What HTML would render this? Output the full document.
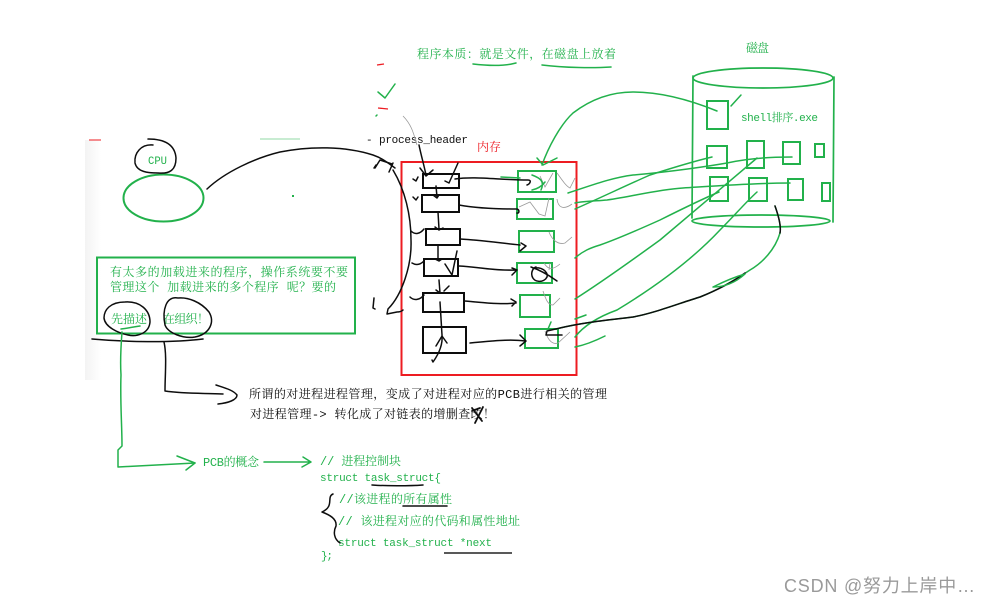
<!DOCTYPE html>
<html>
<head>
<meta charset="utf-8">
<style>
html,body{margin:0;padding:0;background:#fff;width:988px;height:605px;overflow:hidden}
svg{display:block}
text{font-family:"Liberation Mono","Noto Serif CJK SC",serif;font-size:11px}
text.c{font-size:12px}
.g{fill:#22b14c}
.k{fill:#111}
.gs{fill:none;stroke:#22b14c;stroke-width:1.5;stroke-linecap:round;stroke-linejoin:round}
.bs{fill:none;stroke:#111;stroke-width:1.5;stroke-linecap:round;stroke-linejoin:round}
.gb{fill:none;stroke:#22b14c;stroke-width:2}
.kb{fill:none;stroke:#111;stroke-width:2}
.th{fill:none;stroke:#999;stroke-width:.8}
</style>
</head>
<body>
<svg width="988" height="605" viewBox="0 0 988 605" xmlns="http://www.w3.org/2000/svg">
<defs>
<linearGradient id="fade" x1="0" x2="1" y1="0" y2="0">
<stop offset="0" stop-color="#f3f3f3"/><stop offset="1" stop-color="#fff"/>
</linearGradient>
<filter id="soft" x="0" y="0" width="100%" height="100%"><feGaussianBlur stdDeviation="0.35"/></filter>
</defs>
<rect width="988" height="605" fill="#fff"/>
<rect x="85" y="140" width="16" height="240" fill="url(#fade)"/>
<g filter="url(#soft)">
<path d="M89 140H101" stroke="#ed1c24" stroke-width="1"/>
<path d="M260 139H300" stroke="#22b14c" stroke-width="1" opacity=".5"/>
<rect x="292" y="195" width="2" height="2" fill="#22b14c"/>

<!-- top marks -->
<path d="M377 65L384 64M378 108L388 109" stroke="#ed1c24" stroke-width="1.3" fill="none"/>
<path class="gs" d="M378 92L385 98L395 84"/>
<path class="gs" d="M377 115L376 116"/>

<text class="g c" x="417" y="58" textLength="199" lengthAdjust="spacing">程序本质：就是文件，在磁盘上放着</text>
<path class="gs" d="M473 64C490 66 505 66 516 63"/>
<path class="gs" d="M542 65C565 68 595 68 611 67"/>

<!-- CPU -->
<ellipse cx="163.500" cy="198" rx="40" ry="23.500" class="gb"/>
<text class="g" x="148" y="164" textLength="19" lengthAdjust="spacingAndGlyphs">CPU</text>
<path class="bs" d="M153 145C141 144 134 153 135 163C137 172 148 173 158 173C170 174 176 170 176 158C175 145 165 139 148 139"/>
<path class="bs" d="M207 189C225 172 255 158 280 152C310 146 345 146 373 155C382 158 388 163 395 168"/>
<path class="bs" d="M375 168L380 160L392 164M393 163L389 172"/>
<path class="bs" d="M376 165L374 168"/>

<!-- Left note -->
<rect x="97" y="257.500" width="258" height="76" class="gb"/>
<text class="g c" x="110" y="276" textLength="238" lengthAdjust="spacing">有太多的加载进来的程序，操作系统要不要</text>
<text class="g c" x="110" y="291" textLength="226" lengthAdjust="spacing">管理这个 加载进来的多个程序 呢？要的</text>
<text class="g c" x="111" y="323" textLength="36" lengthAdjust="spacing">先描述</text>
<text class="g c" x="163" y="323" textLength="46" lengthAdjust="spacing">在组织！</text>
<path class="bs" d="M125 302C110 302 104 310 104 318C105 327 118 333 128 335C136 337 149 334 150 322C150 310 140 301 125 302"/>
<path class="bs" d="M178 298C166 296 162 310 165 325C168 333 183 339 195 337C210 334 215 322 209 312C201 302 188 297 178 298"/>
<path class="gs" d="M121 329C128 328 134 327 140 326"/>
<path class="bs" d="M92 339C125 342 170 343 203 339"/>

<!-- Green line to PCB -->
<path class="gs" d="M122 332C121 345 120 360 121 375C120 400 122 425 122 446L118 450L118 467L195 463"/>
<path class="gs" d="M177 456L195 463L186 470"/>
<text class="g c" x="203" y="466" textLength="56" lengthAdjust="spacing">PCB的概念</text>
<path class="gs" d="M264 462L311 462M303 457L311 462L302 467"/>

<!-- Black line to text -->
<path class="bs" d="M164 342C167 355 165 375 165 391C185 394 205 393 223 394"/>
<path class="bs" d="M216 385C225 388 233 390 237 395C237 400 228 403 218 404"/>
<text class="k c" x="249" y="398" textLength="358" lengthAdjust="spacing">所谓的对进程进程管理，变成了对进程对应的PCB进行相关的管理</text>
<text class="k c" x="250" y="418" textLength="245" lengthAdjust="spacing">对进程管理-&gt; 转化成了对链表的增删查改！</text>
<path class="bs" d="M472 408L482 421M483 407L475 423M472 411L480 408" style="stroke-width:1.800"/>

<!-- Code -->
<text class="g c" x="320" y="465" textLength="81" lengthAdjust="spacing">// 进程控制块</text>
<text class="g" x="320" y="481" textLength="121" lengthAdjust="spacing">struct task_struct{</text>
<text class="g c" x="339" y="503" textLength="113" lengthAdjust="spacing">//该进程的所有属性</text>
<text class="g c" x="338" y="525" textLength="182" lengthAdjust="spacing">// 该进程对应的代码和属性地址</text>
<text class="g" x="338" y="546" textLength="154" lengthAdjust="spacing">struct task_struct *next</text>
<text class="g" x="321" y="559" textLength="12" lengthAdjust="spacing">};</text>
<path class="bs" d="M372 485C385 486 410 486 423 485"/>
<path class="bs" d="M403 506L447 506"/>
<path d="M444 553L512 553" stroke="#222" stroke-width="1.500"/>
<path class="bs" d="M333 494C326 497 335 506 322 512C330 515 337 519 336 526C333 532 334 539 340 543"/>

<!-- Labels around memory -->
<text class="k" x="366" y="143">-</text>
<text class="k" x="379" y="143" textLength="89" lengthAdjust="spacing">process_header</text>
<text class="c" x="477" y="151" fill="#ed1c24" textLength="24" lengthAdjust="spacing">内存</text>

<!-- Memory -->
<rect x="401.500" y="162" width="175" height="213" fill="none" stroke="#ed1c24" stroke-width="2"/>
<rect x="423" y="174" width="36" height="14" class="kb"/>
<rect x="422" y="195" width="37" height="17" class="kb"/>
<rect x="426" y="229" width="34" height="16" class="kb"/>
<rect x="424" y="259" width="34" height="17" class="kb"/>
<rect x="423" y="293" width="41" height="19" class="kb"/>
<rect x="423" y="327" width="43" height="26" class="kb"/>
<rect x="518" y="171" width="38" height="21" class="gb"/>
<rect x="517" y="199" width="36" height="20" class="gb"/>
<rect x="519" y="231" width="35" height="21" class="gb"/>
<rect x="517" y="263" width="35" height="20" class="gb"/>
<rect x="520" y="295" width="30" height="22" class="gb"/>
<rect x="525" y="329" width="33" height="19" class="gb"/>

<!-- arrow from label -->
<path class="th" d="M403 116C412 125 414 135 417 145"/>
<path class="bs" d="M419 145C421 155 424 165 426 175M420 168L426 176L433 170"/>
<path class="bs" d="M445 181L449 183L458 163"/>
<path class="bs" d="M413 179L416 181L418 177M413 197L416 200L418 197"/>

<!-- vertical links -->
<path class="bs" d="M436 186L437 197M433 195L437 198L439 195"/>
<path class="bs" d="M438 212L439 229M435 227L439 230L443 228"/>
<path class="bs" d="M438 245L438 260M435 259L439 261L442 259"/>
<path class="bs" d="M439 280L440 293M444 291L449 286M436 290L440 293"/>
<path class="bs" d="M440 302L442 335C443 345 438 355 433 362L432 360"/>
<path class="bs" d="M436 346L442 336L447 343"/>
<path class="bs" d="M445 264L452 275L457 251"/>

<!-- left chain -->
<path class="bs" d="M393 170C405 190 411 215 411 240C412 265 402 295 388 309L387 314L397 312C400 312 402 311 403 310"/>
<path class="bs" d="M411 231C415 235 420 234 424 229M412 263C417 266 421 264 424 261M410 297C414 301 420 300 424 295"/>
<path class="bs" d="M374 298L373 308L375 309"/>

<!-- horizontal links -->
<path class="bs" d="M455 179C475 176 500 180 528 180C532 180 530 184 527 185"/>
<path class="bs" d="M459 205C475 208 495 209 517 209C520 210 519 214 517 213"/>
<path class="bs" d="M460 239C480 240 500 243 520 245M521 243L526 246L520 251"/>
<path class="bs" d="M459 266C480 267 495 271 516 270M512 268L517 270L512 275"/>
<path class="bs" d="M464 301C480 302 500 305 516 303M511 299L516 302L512 306"/>
<path class="bs" d="M470 343C490 341 510 339 525 341M520 335L526 341L520 346"/>
<path class="bs" d="M533 269C540 265 549 272 547 277C544 283 534 283 532 276C531 272 533 268 536 267M531 267C540 270 550 276 557 281"/>

<!-- thin scribbles -->
<path class="th" d="M540 176L545 187L553 173M557 173C562 180 566 186 570 188L575 178"/>
<path class="th" d="M519 207L530 202L539 214L545 216L549 198M557 199C558 208 564 210 572 204"/>
<path class="th" d="M549 232C552 240 558 245 565 243L572 237"/>
<path class="th" d="M544 263C548 270 553 270 560 264M549 270L550 263"/>
<path class="th" d="M543 291C546 300 548 305 553 305L560 298"/>
<path class="th" d="M545 331C548 340 552 345 558 343L570 332"/>

<!-- Disk -->
<ellipse cx="763" cy="78" rx="70" ry="10" class="gb" style="stroke-width:1.700"/>
<path class="gs" d="M693 76L692 218M834 77L833 222" style="stroke-width:1.700"/>
<ellipse cx="761" cy="221" rx="69" ry="6" class="gb" style="stroke-width:1.700"/>
<text x="746" y="52" class="g c" textLength="23" lengthAdjust="spacing">磁盘</text>
<text x="741" y="121" class="g" textLength="77" lengthAdjust="spacing">shell排序.exe</text>
<rect x="707" y="101" width="21" height="28" class="gb"/>
<rect x="707" y="146" width="20" height="22" class="gb"/>
<rect x="747" y="141" width="17" height="27" class="gb"/>
<rect x="783" y="142" width="17" height="22" class="gb"/>
<rect x="815" y="144" width="9" height="13" class="gb"/>
<rect x="710" y="177" width="18" height="24" class="gb"/>
<rect x="749" y="178" width="18" height="23" class="gb"/>
<rect x="788" y="179" width="15" height="21" class="gb"/>
<rect x="822" y="183" width="8" height="18" class="gb"/>
<path class="gs" d="M731 106L741 95"/>

<!-- Green curves -->
<path class="gs" d="M717 111C690 100 660 92 633 92C610 92 590 100 573 113C560 125 548 148 542 165"/>
<path class="gs" d="M537 158L543 165L557 158"/>
<path class="gs" d="M568 193C590 186 610 178 633 175C670 172 710 166 727 163C745 159 770 157 792 157"/>
<path class="gs" d="M575 209C600 198 625 186 650 175C675 167 695 161 712 157"/>
<path class="gs" d="M575 203C585 201 597 201 607 200C635 196 655 190 683 188C715 186 755 183 790 183"/>
<path class="gs" d="M575 258C583 251 590 248 600 245C620 238 640 229 660 220C680 210 700 200 719 192"/>
<path class="gs" d="M575 299C605 280 635 258 660 240C690 215 725 185 757 158"/>
<path class="gs" d="M575 337C582 328 595 318 617 310C650 290 690 262 720 230C735 215 745 203 757 192"/>
<path class="gs" d="M775 206C780 220 781 228 780 233C775 250 762 263 750 270C735 280 718 290 700 297C680 303 655 313 633 317C610 320 585 322 560 328"/>
<path class="bs" d="M775 206C780 220 781 228 780 233M745 273C730 284 715 291 700 297C680 303 655 313 633 317C610 320 585 322 560 328L547 331L546 335L562 335"/>
<path class="gs" d="M713 287C725 281 738 276 745 274C735 283 725 287 713 287"/>
<path class="gs" d="M575 319L586 315M575 347C585 345 595 341 605 336"/>
<path class="gs" d="M548 329L551 322"/>
<path class="gs" d="M501 177L520 178M532 175C540 178 545 181 541 190M532 190C537 189 542 186 545 182"/>

<!-- watermark -->
<text x="784" y="592" fill="#9a9a9a" style="font-family:'Liberation Sans','Noto Sans CJK SC',sans-serif;font-size:18px" textLength="191" lengthAdjust="spacing">CSDN @努力上岸中…</text>
</g>
</svg>
</body>
</html>
